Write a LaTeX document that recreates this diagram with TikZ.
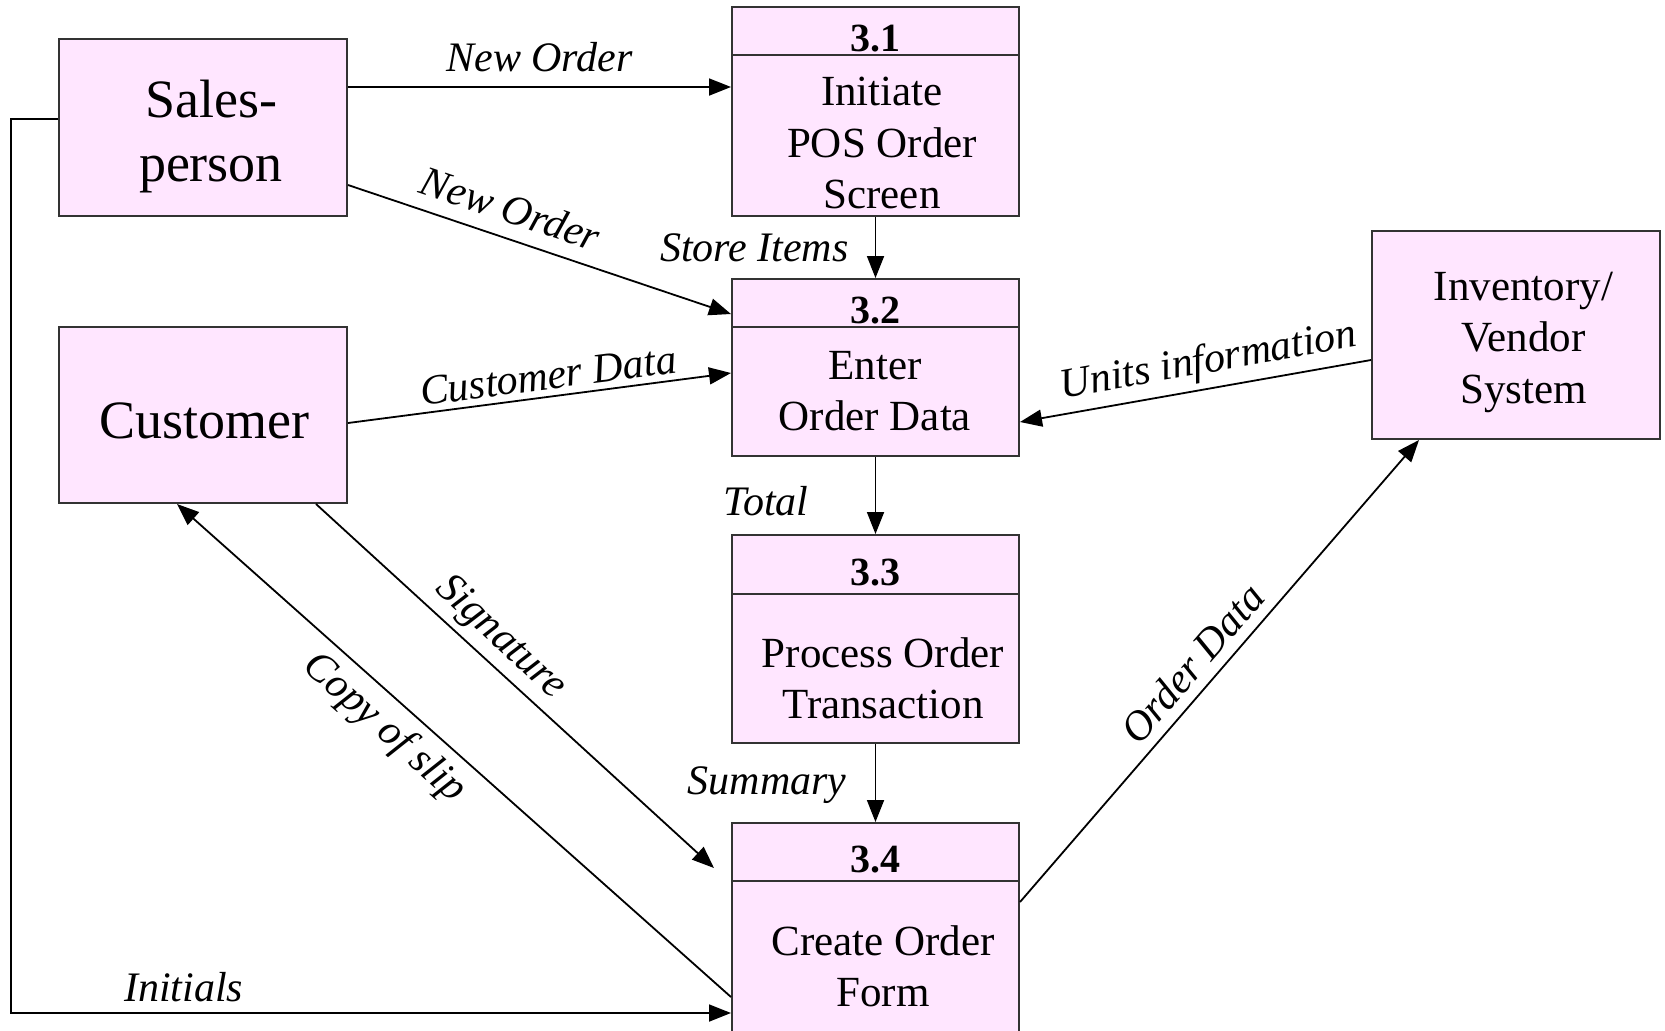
\documentclass[tikz,border=0pt]{standalone}
\usepackage{fontspec}
\setmainfont{Liberation Serif}
\usetikzlibrary{arrows.meta}

\definecolor{boxpink}{RGB}{255,230,255}

\tikzset{
  entity/.style={draw=black!80, fill=boxpink, line width=1pt, minimum width=144pt, inner sep=0pt},
  enttext/.style={align=center, inner sep=0pt, font=\fontsize{27}{32}\selectfont},
  procbox/.style={draw=black!80, fill=boxpink, line width=1pt, minimum width=143.5pt, inner sep=0pt},
  procnum/.style={font=\bfseries\fontsize{20}{24}\selectfont, inner sep=0pt},
  proctext/.style={align=center, inner sep=0pt, font=\fontsize{21.5}{25.6}\selectfont},
  divider/.style={draw=black!80, line width=1pt},
  flow/.style={line width=0.9pt, -{Triangle[length=11pt,width=8.5pt]}},
  lbl/.style={font=\itshape\fontsize{21}{24}\selectfont, inner sep=1pt}
}

\begin{document}
\begin{tikzpicture}[x=0.5pt, y=-0.5pt]
    \useasboundingbox (0,0) rectangle (1665,1030);

    % Externe Einheiten
    \node[entity, minimum height=88.5pt] (sp) at (203,127.5) {};
    \node[entity, minimum height=88pt] (cu) at (203,415) {};
    \node[entity, minimum height=104pt] (inv) at (1516,335) {};

    \node[enttext] (spt) at (211,137) {Sales-\\person};
    \node[enttext] (cut) at (204,421) {Customer};
    \node[enttext, font=\fontsize{21.5}{25.75}\selectfont] (invt) at (1523.5,342) {Inventory/\\Vendor\\System};

    % Prozesse
    \node[procbox, minimum height=104.5pt] (p31) at (875.5,111.5) {};
    \node[procbox, minimum height=88.5pt] (p32) at (875.5,367.5) {};
    \node[procbox, minimum height=104pt] (p33) at (875.5,639) {};
    \node[procbox, minimum height=111pt] (p34) at (875.5,934) {};

    \draw[divider] (732,55) -- (1019,55);
    \draw[divider] (732,327) -- (1019,327);
    \draw[divider] (732,594) -- (1019,594);
    \draw[divider] (732,881) -- (1019,881);

    \node[procnum] (n31) at (875.5,38.5) {3.1};
    \node[procnum] (n32) at (875.5,310.5) {3.2};
    \node[procnum] (n33) at (875.5,572.5) {3.3};
    \node[procnum] (n34) at (875.5,859.5) {3.4};

    \node[proctext] (t31) at (882,143) {Initiate\\POS Order\\Screen};
    \node[proctext] (t32) at (875,391) {Enter\\Order Data};
    \node[proctext] (t33) at (883,678) {Process Order\\Transaction};
    \node[proctext] (t34) at (883,966) {Create Order\\Form};

    % Datenflüsse
    \draw[flow] ([yshift=20.25pt]sp.east) -- ([yshift=20.25pt]sp.east -| p31.west)
        node[lbl, midway, above=6pt] {New Order};
    \draw[flow] ([yshift=-28.75pt]sp.east) -- ([yshift=26.75pt]p32.west)
        node[lbl, pos=0.40, sloped, above=6pt] {New Order};
    \draw[flow] (p31.south) -- (p32.north)
        node[lbl, midway, left=12pt] {Store Items};
    \draw[flow] ([yshift=-4pt]cu.east) -- ([yshift=-2.75pt]p32.west)
        node[lbl, pos=0.53, sloped, above=2pt] {Customer Data};
    \draw[flow] ([yshift=-12.5pt]inv.west) -- ([yshift=-27.25pt]p32.east)
        node[lbl, pos=0.45, sloped, above=2pt] {Units information};
    \draw[flow] (p32.south) -- (p33.north)
        node[lbl, midway, left=32pt, yshift=-3pt] {Total};
    \draw[flow] (p33.south) -- (p34.north)
        node[lbl, midway, left=13pt, yshift=-1pt] {Summary};
    \draw[flow] ([xshift=56.5pt]cu.south) -- ([xshift=-8.5pt, yshift=-23pt]p34.north west)
        node[lbl, pos=0.42, sloped, above=2pt] {Signature};
    \draw[flow] ([yshift=-87.5pt]p34.north west) -- ([xshift=-13pt]cu.south)
        node[lbl, pos=0.59, sloped, below=4pt] {Copy of slip};
    \draw[flow] ([yshift=-40pt]p34.north east) -- ([xshift=-48.5pt]inv.south)
        node[lbl, pos=0.48, sloped, above=4pt] {Order Data};
    \draw[flow] ([yshift=4.25pt]sp.west) -- ++(-47,0) |- ([yshift=-95.5pt]p34.north west)
        node[lbl, pos=0.62, above=4pt] {Initials};
\end{tikzpicture}
\end{document}
